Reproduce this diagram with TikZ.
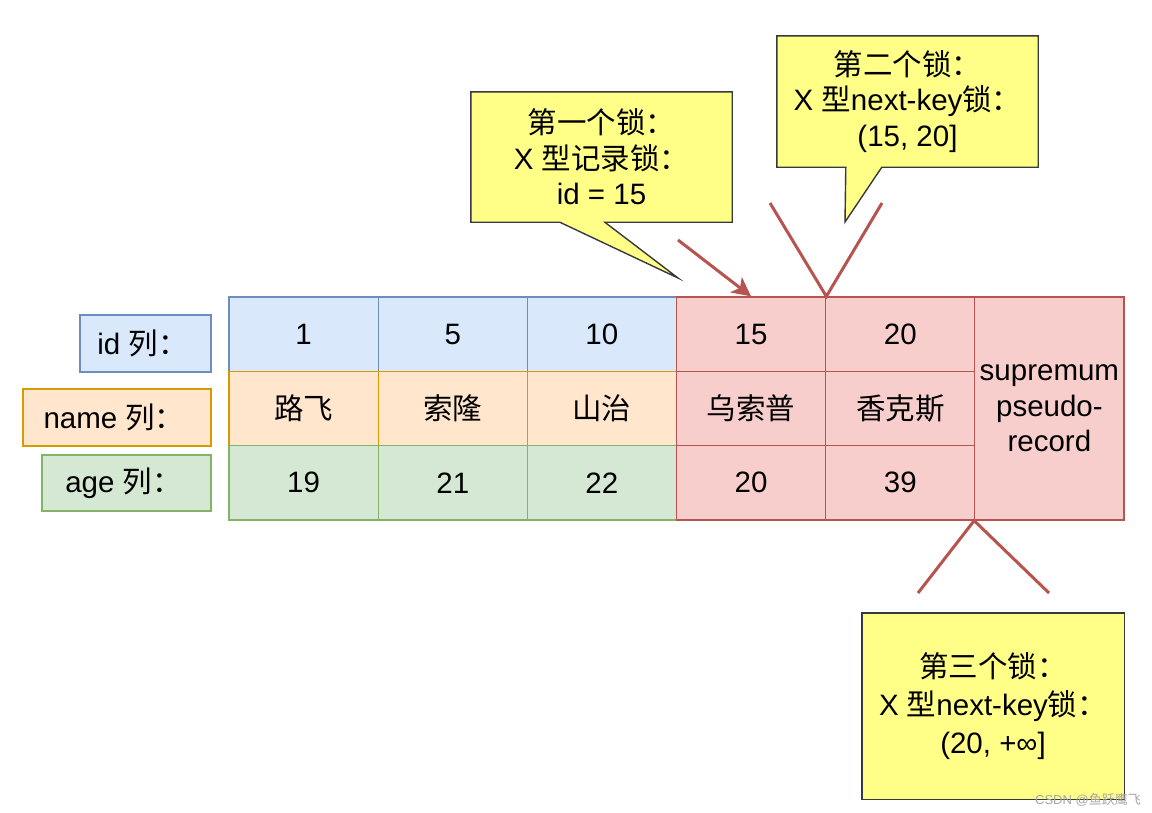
\documentclass[tikz,border=0pt]{standalone}
\usepackage{fontspec}
\setmainfont{Liberation Sans}
\newfontfamily\cjk{Noto Sans CJK SC}
\usetikzlibrary{arrows.meta,calc}
\definecolor{bluef}{HTML}{DAE8FC}\definecolor{bluel}{HTML}{6C8EBF}
\definecolor{orf}{HTML}{FFE6CC}\definecolor{orl}{HTML}{D79B00}
\definecolor{grf}{HTML}{D5E8D4}\definecolor{grl}{HTML}{82B366}
\definecolor{redf}{HTML}{F8CECC}\definecolor{redl}{HTML}{B85450}
\definecolor{yelf}{HTML}{FFFF88}\definecolor{yell}{HTML}{36393D}
\newcommand{\zh}[1]{{\cjk #1}}
\newcommand{\zcol}{{\cjk ：}\hspace{6pt}}
\pgfdeclarelayer{back}
\pgfsetlayers{back,main}
\tikzset{
  txt/.style={font=\fontsize{29.5}{35.5}\selectfont, align=center, inner sep=0pt},
  cell/.style={txt, draw, line width=1.3pt, minimum width=149.17pt, minimum height=74.33pt},
  bluecell/.style={cell, fill=bluef, draw=bluel},
  orcell/.style={cell, fill=orf, draw=orl},
  grcell/.style={cell, fill=grf, draw=grl},
  redcell/.style={cell, fill=redf, draw=redl},
  lab/.style={txt, draw, line width=1.3pt},
  callbox/.style={txt},
  callshape/.style={fill=yelf, draw=yell, line width=1.4pt, line join=miter},
  redline/.style={draw=redl, line width=3pt},
}
\begin{document}
\begin{tikzpicture}[x=1pt,y=-1pt]
\useasboundingbox (0,0) rectangle (1152,812);
\begin{pgfonlayer}{back}
\fill[white] (0,0) rectangle (1152,812);
\end{pgfonlayer}
% labels
\node[lab, fill=bluef, draw=bluel, minimum width=131pt, minimum height=57pt] (lid) at (145.5,343.5) {id \zh{列}\zcol};
\node[lab, fill=orf, draw=orl, minimum width=188pt, minimum height=57pt] (lname) at (117,417.5) {name \zh{列}\zcol};
\node[lab, fill=grf, draw=grl, minimum width=169pt, minimum height=56pt] (lage) at (126.5,483) {age \zh{列}\zcol};
% rows
\node[bluecell] (a1) at (303.6,334.2) {1};
\node[bluecell] (a2) at (452.8,334.2) {5};
\node[bluecell] (a3) at (601.9,334.2) {10};
\node[orcell] (b1) at (303.6,408.5) {\zh{路飞}};
\node[orcell] (b2) at (452.8,408.5) {\zh{索隆}};
\node[orcell] (b3) at (601.9,408.5) {\zh{山治}};
\node[grcell] (c1) at (303.6,482.8) {19};
\node[grcell] (c2) at (452.8,482.8) {21};
\node[grcell] (c3) at (601.9,482.8) {22};
\node[redcell] (a4) at (751.1,334.2) {15};
\node[redcell] (a5) at (900.3,334.2) {20};
\node[redcell] (b4) at (751.1,408.5) {\zh{乌索普}};
\node[redcell] (b5) at (900.3,408.5) {\zh{香克斯}};
\node[redcell] (c4) at (751.1,482.8) {20};
\node[redcell] (c5) at (900.3,482.8) {39};
\node[redcell, minimum height=223pt] (sup) at (1049.4,408.5) {supremum\\pseudo-\\record};
% callouts
\node[callbox, minimum width=261pt, minimum height=130pt] (k1) at (601.5,157) {\zh{第一个锁}\zcol\\X \zh{型记录锁}\zcol\\id = 15};
\node[callbox, minimum width=261pt, minimum height=131pt] (k2) at (907.5,101.5) {\zh{第二个锁}\zcol\\X \zh{型}next-key\zh{锁}\zcol\\(15, 20]};
\node[callbox, minimum width=262pt, minimum height=186pt, font=\fontsize{29.5}{38}\selectfont] (k3) at (993,706) {\zh{第三个锁}\zcol\\X \zh{型}next-key\zh{锁}\zcol\\(20, +∞]};
\coordinate (t1) at (678,278);
\coordinate (t2) at (845,222);
\begin{pgfonlayer}{back}
\draw[callshape] (k1.north west) -- (k1.north east) -- (k1.south east) -- ($(k1.south west)+(134,0)$) -- (t1) -- ($(k1.south west)+(89,0)$) -- (k1.south west) -- cycle;
\draw[callshape] (k2.north west) -- (k2.north east) -- (k2.south east) -- ($(k2.south west)+(105,0)$) -- (t2) -- ($(k2.south west)+(69,0)$) -- (k2.south west) -- cycle;
\draw[callshape] (k3.north west) rectangle (k3.south east);
\end{pgfonlayer}
% red marks
\coordinate (ar) at (678,240);
\draw[redline, -{Stealth[length=19pt,width=19pt,inset=5pt]}] (ar) -- (a4.north);
\coordinate (v1) at (770,203);
\coordinate (v2) at (882,203);
\draw[redline] (v1) -- (a4.north east) -- (v2);
\coordinate (w1) at (918,593);
\coordinate (w2) at (1049,593);
\draw[redline] (w1) -- (sup.south west) -- (w2);
% watermark
\node[font=\fontsize{13}{13}\selectfont, text=black!35, anchor=east, inner sep=0pt] (wm) at (1141,800) {CSDN @\zh{鱼跃鹰飞}};
\end{tikzpicture}
\end{document}
